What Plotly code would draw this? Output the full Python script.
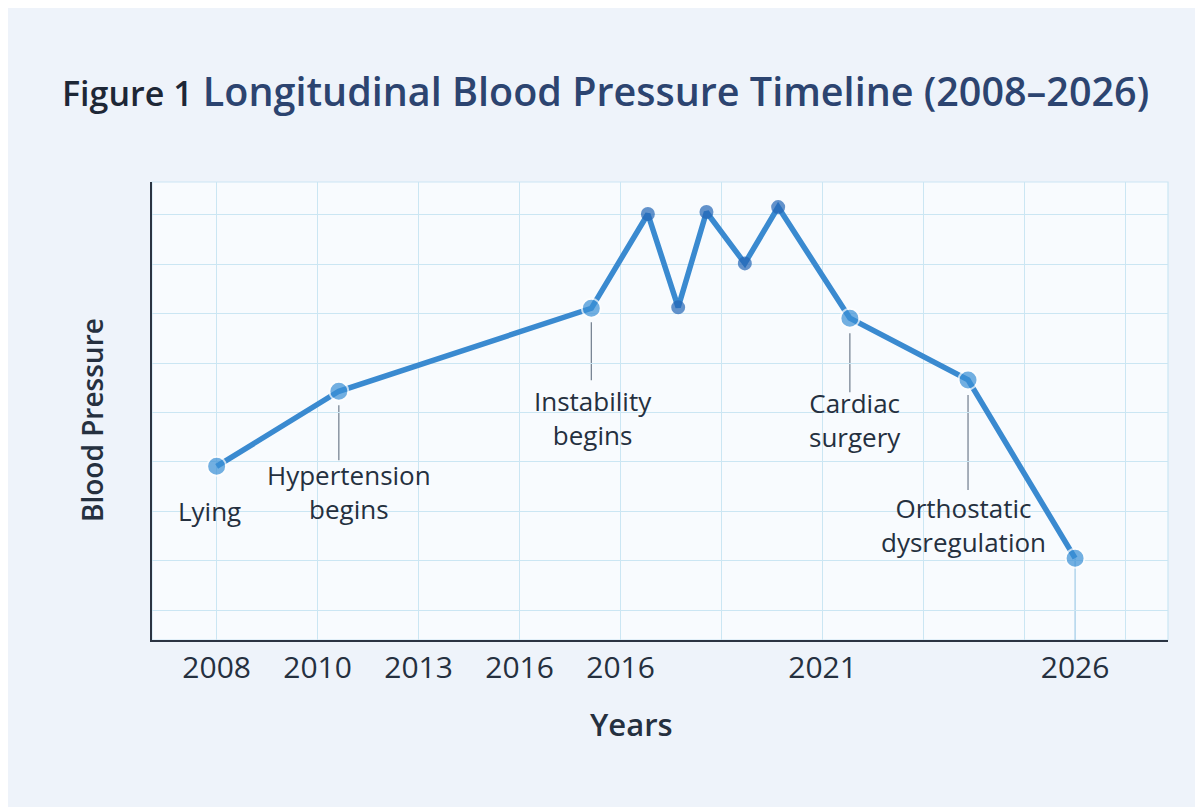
import plotly.graph_objects as go

# ---- data ----
tick_positions = [0, 1, 2, 3, 4, 6, 8.5]
tick_labels = ["2008", "2010", "2013", "2016", "2016", "2021", "2026"]

x_pos = [0, 1.21, 3.71, 4.27, 4.57, 4.85, 5.23, 5.56, 6.27, 7.44, 8.5]
bp_values = [109.1, 124.3, 141.1, 160.2, 141.3, 160.6, 150.2, 161.6, 139.1, 126.6, 90.5]
event_labels = ["Lying", "Hypertension<br>begins", "Instability<br>begins", "", "", "", "", "",
                "Cardiac<br>surgery", "Orthostatic<br>dysregulation", ""]
is_event = [True, True, True, False, False, False, False, False, True, True, True]

# label placement (pixels relative to the point) and connector lengths
label_dx = [-7, 10, 2, 0, 0, 0, 0, 0, 5, -5, 0]
label_dy = [-45, -101, -110, 0, 0, 0, 0, 0, -102, -145, 0]
connector = [None, (-14, -69), (-14, -72), None, None, None, None, None, (-15, -74), (-15, -110), None]

LINE = "#3a8ad0"
BIG = "#3a90d6"
SMALL = "#2466b6"
TEXT = "#25303f"
GRID = "#cbe6f3"
FONT = "Open Sans"

x_range = [-0.64, 9.42]
y_range = [73.93, 166.68]

fig = go.Figure()

fig.add_trace(go.Scatter(
    x=x_pos, y=bp_values, mode="lines",
    line=dict(color=LINE, width=5.5), hoverinfo="skip", showlegend=False))

fig.add_trace(go.Scatter(
    x=x_pos, y=bp_values, mode="markers",
    marker=dict(size=[19 if e else 12 for e in is_event],
                color=[BIG if e else SMALL for e in is_event],
                line=dict(color=["white" if e else SMALL for e in is_event], width=2)),
    showlegend=False))

shapes = []
annotations = []
for i, lab in enumerate(event_labels):
    if connector[i] is not None:
        shapes.append(dict(type="line", xref="x", yref="y", ysizemode="pixel", yanchor=bp_values[i],
                           x0=x_pos[i], x1=x_pos[i], y0=connector[i][0], y1=connector[i][1],
                           line=dict(color="#6f7c8c", width=1.2), layer="below"))
    if lab:
        annotations.append(dict(x=x_pos[i], y=bp_values[i], xref="x", yref="y", text=lab,
                                showarrow=False, xshift=label_dx[i], yshift=label_dy[i],
                                yanchor="middle", xanchor="center",
                                font=dict(family=FONT, size=26, color=TEXT)))

# drop line from last point to axis
shapes.append(dict(type="line", xref="x", yref="y", x0=x_pos[-1], x1=x_pos[-1],
                   y0=y_range[0], y1=bp_values[-1], line=dict(color="#9fcbe6", width=1.2), layer="below"))

# plot frame (top/right)
shapes.append(dict(type="rect", xref="paper", yref="paper", x0=0, x1=1, y0=0, y1=1,
                   line=dict(color=GRID, width=1.2), layer="below"))

annotations.append(dict(text="Years", xref="paper", yref="paper", x=(631 - 152) / 1016, y=(640 - 724) / 458,
                        showarrow=False, xanchor="center", yanchor="middle",
                        font=dict(family=FONT, size=31, color=TEXT, weight=600)))
annotations.append(dict(text="Blood Pressure", xref="paper", yref="paper", x=(92 - 152) / 1016,
                        y=(640 - 420) / 458, textangle=-90,
                        showarrow=False, xanchor="center", yanchor="middle",
                        font=dict(family=FONT, size=28, color=TEXT, weight=600)))

fig.update_layout(
    width=1203, height=807,
    margin=dict(l=144, r=43, t=174, b=175),
    paper_bgcolor="#eef3fa",
    plot_bgcolor="#f8fbfe",
    title=dict(
        text="<span style='font-size:34px;color:#1d2736'>Figure 1</span> Longitudinal Blood Pressure Timeline (2008\u20132026)",
        xref="container", yref="container", x=54 / 1203, y=1 - 84 / 807,
        xanchor="left", yanchor="middle",
        font=dict(family=FONT, size=39.5, color="#2c4470", weight=600)),
    xaxis=dict(range=x_range, tickmode="array", tickvals=tick_positions, ticktext=tick_labels,
               showgrid=False, zeroline=False, showline=True, linecolor="#2b3442", linewidth=2,
               ticks="", tickfont=dict(family=FONT, size=30, color=TEXT, weight=500),
               minor=dict(tickmode="linear", tick0=0, dtick=1, showgrid=True, gridcolor=GRID, gridwidth=1, ticks="")),
    yaxis=dict(range=y_range, tickmode="linear", tick0=0, dtick=10, showticklabels=False,
               showgrid=True, gridcolor=GRID, gridwidth=1, zeroline=False,
               showline=True, linecolor="#2b3442", linewidth=2, ticks=""),
    shapes=shapes,
    annotations=annotations,
    showlegend=False,
)

fig.write_html("out.html")
